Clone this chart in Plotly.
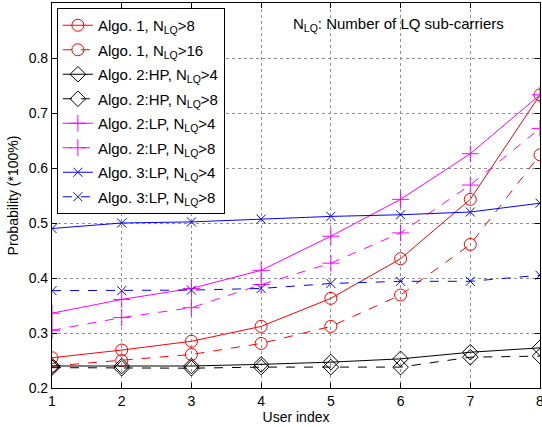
import plotly.graph_objects as go

users = [1, 2, 3, 4, 5, 6, 7, 8]
a1_gt8 = [0.255, 0.269, 0.285, 0.312, 0.363, 0.435, 0.543, 0.733]
a1_gt16 = [0.240, 0.250, 0.261, 0.281, 0.312, 0.369, 0.461, 0.624]
a2hp_gt4 = [0.240, 0.240, 0.240, 0.243, 0.247, 0.253, 0.265, 0.273]
a2hp_gt8 = [0.237, 0.236, 0.236, 0.238, 0.238, 0.238, 0.256, 0.258]
a2lp_gt4 = [0.336, 0.361, 0.381, 0.414, 0.476, 0.543, 0.626, 0.733]
a2lp_gt8 = [0.305, 0.328, 0.346, 0.388, 0.427, 0.482, 0.569, 0.672]
a3lp_gt4 = [0.490, 0.500, 0.502, 0.507, 0.512, 0.515, 0.520, 0.536]
a3lp_gt8 = [0.377, 0.377, 0.378, 0.381, 0.390, 0.394, 0.394, 0.405]
y_ticks = [0.2, 0.3, 0.4, 0.5, 0.6, 0.7, 0.8]

series = [
    ("Algo. 1, N<sub>LQ</sub>>8", a1_gt8, "red", "solid", "circle-open", 12),
    ("Algo. 1, N<sub>LQ</sub>>16", a1_gt16, "red", "dash", "circle-open", 12),
    ("Algo. 2:HP, N<sub>LQ</sub>>4", a2hp_gt4, "black", "solid", "diamond-open", 12),
    ("Algo. 2:HP, N<sub>LQ</sub>>8", a2hp_gt8, "black", "dash", "diamond-open", 12),
    ("Algo. 2:LP, N<sub>LQ</sub>>4", a2lp_gt4, "magenta", "solid", "cross-thin-open", 12),
    ("Algo. 2:LP, N<sub>LQ</sub>>8", a2lp_gt8, "magenta", "dash", "cross-thin-open", 12),
    ("Algo. 3:LP, N<sub>LQ</sub>>4", a3lp_gt4, "blue", "solid", "x-thin-open", 9),
    ("Algo. 3:LP, N<sub>LQ</sub>>8", a3lp_gt8, "blue", "dash", "x-thin-open", 9),
]

fig = go.Figure()
for i, (name, vals, color, dash, sym, size) in enumerate(series):
    fig.add_trace(go.Scatter(
        x=users, y=vals, name=name, mode="lines+markers", legendgroup=f"g{i}",
        line=dict(color=color, width=1, dash=dash),
        marker=dict(symbol=sym, size=size, color=color, line=dict(color=color, width=1)),
    ))

axis_common = dict(
    showline=True, linecolor="black", linewidth=1.2, mirror="ticks",
    ticks="inside", ticklen=5, tickcolor="black", automargin=False,
    showgrid=True, gridcolor="#909090", griddash="dot", gridwidth=1,
    zeroline=False, tickfont=dict(size=14, color="black"),
)

fig.update_layout(
    width=542, height=427,
    margin=dict(l=52, r=2, t=3, b=39),
    paper_bgcolor="white", plot_bgcolor="white",
    font=dict(family="Liberation Sans, Arial, sans-serif", color="black"),
    xaxis=dict(range=[1, 8], tickvals=users, ticklabeloverflow="allow",
               title=dict(text="User index", font=dict(size=14), standoff=0), **axis_common),
    yaxis=dict(range=[0.2, 0.9], tickvals=y_ticks, tickformat=".1f",
               title=dict(text="Probability (*100%)", font=dict(size=14), standoff=6), **axis_common),
    legend=dict(x=0.01, y=0.987, xanchor="left", yanchor="top", bgcolor="white",
                bordercolor="black", borderwidth=1, font=dict(size=15), tracegroupgap=2),
    showlegend=True,
)

fig.add_annotation(
    text="N<sub>LQ</sub>: Number of LQ sub-carriers", xref="paper", yref="paper",
    x=0.93, y=0.943, xanchor="right", yanchor="middle", showarrow=False,
    font=dict(size=15, color="black"),
)

fig.write_html("out.html", config={"displayModeBar": False},
               post_script="document.body.style.margin='0';")
